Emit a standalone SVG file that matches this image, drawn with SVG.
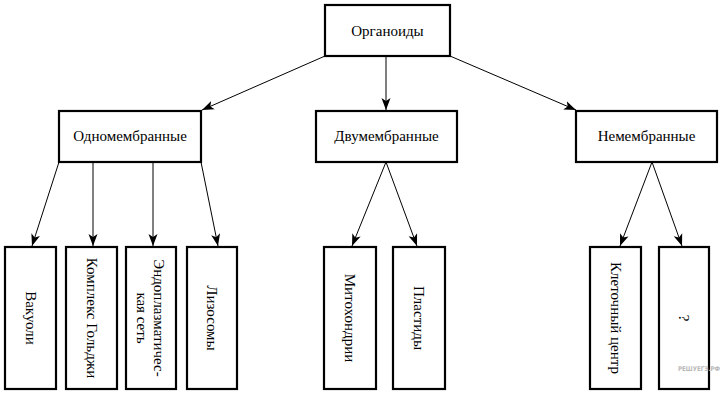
<svg xmlns="http://www.w3.org/2000/svg" width="725" height="395" viewBox="0 0 725 395">
<defs>
<style>
.box{fill:#fff;stroke:#000;stroke-width:2.2}
.t{font-family:"Liberation Serif","Times New Roman",serif;font-size:15px;fill:#000;text-anchor:middle}
.c{stroke:#000;stroke-width:1;fill:none;marker-end:url(#ah)}
.wm{font-family:"DejaVu Sans","Liberation Sans",sans-serif;font-size:6.5px;font-weight:bold;fill:#b8b8b8}
</style>
<marker id="ah" viewBox="0 0 12 10" refX="12" refY="5" markerWidth="12" markerHeight="10" markerUnits="userSpaceOnUse" orient="auto">
<path d="M0,0.5 L12,5 L0,9.5 L3,5 z" fill="#000"/>
</marker>
</defs>
<rect width="725" height="395" fill="#fff"/>
<g id="connectors">
<line class="c" x1="325" y1="56" x2="202" y2="110"/>
<line class="c" x1="386" y1="56" x2="386" y2="110"/>
<line class="c" x1="450" y1="56" x2="576" y2="110"/>
<line class="c" x1="59" y1="162" x2="32" y2="246"/>
<line class="c" x1="93" y1="162" x2="93" y2="246"/>
<line class="c" x1="153" y1="162" x2="153" y2="246"/>
<line class="c" x1="201" y1="162" x2="218" y2="246"/>
<line class="c" x1="386" y1="162" x2="352" y2="246"/>
<line class="c" x1="386" y1="162" x2="417" y2="246"/>
<line class="c" x1="652" y1="162" x2="620" y2="246"/>
<line class="c" x1="652" y1="162" x2="682" y2="246"/>
</g>
<g id="organoidy"><rect class="box" x="325" y="5" width="125" height="51"/><text class="t" x="387.5" y="36">Органоиды</text></g>
<g id="odnomembrannye"><rect class="box" x="59" y="111" width="142" height="51"/><text class="t" x="130" y="141">Одномембранные</text></g>
<g id="dvumembrannye"><rect class="box" x="316" y="111" width="141" height="51"/><text class="t" x="386.5" y="141">Двумембранные</text></g>
<g id="nemembrannye"><rect class="box" x="576" y="111" width="141" height="51"/><text class="t" x="646.5" y="141">Немембранные</text></g>
<g id="vakuoli"><rect class="box" x="5" y="247" width="51" height="142"/><text class="t" transform="translate(30.5,318) rotate(90)" x="0" y="5">Вакуоли</text></g>
<g id="golgi"><rect class="box" x="66" y="247" width="51" height="142"/><text class="t" transform="translate(91.5,318) rotate(90)" x="0" y="5">Комплекс Гольджи</text></g>
<g id="eps"><rect class="box" x="126" y="247" width="50" height="142"/><text class="t" transform="translate(151,318) rotate(90)" x="0"><tspan x="0" y="-3">Эндоплазматичес-</tspan><tspan x="0" y="14">кая сеть</tspan></text></g>
<g id="lizosomy"><rect class="box" x="187" y="247" width="50" height="142"/><text class="t" transform="translate(212,318) rotate(90)" x="0" y="5">Лизосомы</text></g>
<g id="mitohondrii"><rect class="box" x="324" y="247" width="52" height="142"/><text class="t" transform="translate(350,318) rotate(90)" x="0" y="5">Митохондрии</text></g>
<g id="plastidy"><rect class="box" x="393" y="247" width="52" height="142"/><text class="t" transform="translate(419,318) rotate(90)" x="0" y="5">Пластиды</text></g>
<g id="kletochny"><rect class="box" x="590" y="247" width="51" height="142"/><text class="t" transform="translate(615.5,318) rotate(90)" x="0" y="5">Клеточный центр</text></g>
<g id="question"><rect class="box" x="659" y="247" width="50" height="142"/><text class="t" transform="translate(684,318) rotate(90)" x="0" y="5">?</text></g>
<text class="wm" x="678" y="371" textLength="42" lengthAdjust="spacingAndGlyphs">РЕШУЕГЭ.РФ</text>
</svg>
